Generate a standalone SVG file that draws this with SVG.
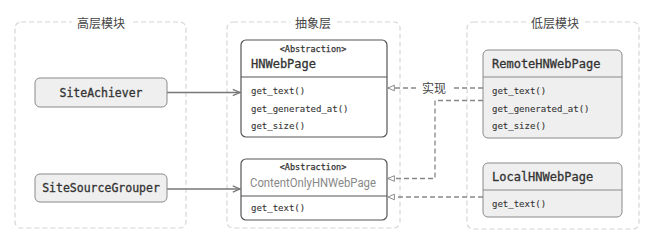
<svg xmlns="http://www.w3.org/2000/svg" width="660" height="238" viewBox="0 0 660 238">
<defs>
<style>
.grp{fill:none;stroke:#d6d6d6;stroke-width:1.2;stroke-dasharray:5 3}
.gt{font-family:"Noto Sans CJK SC","Noto Sans",sans-serif;font-size:12px;fill:#444;text-anchor:middle}
.lab{fill:#fff}
.n1{fill:#efefef;stroke:#8a8a8a;stroke-width:1}
.abs{fill:#fff;stroke:#555;stroke-width:1.2}
.imp{fill:#efefef;stroke:#8a8a8a;stroke-width:1}
.div1{stroke:#555;stroke-width:1.2}
.div2{stroke:#8a8a8a;stroke-width:1.2}
.mono{font-family:"DejaVu Sans Mono","Liberation Mono",monospace;fill:#333}
.name{font-size:11.5px;stroke:#333;stroke-width:0.3}
.meth{font-size:9px;stroke:#333;stroke-width:0.1}
.st{font-size:8.5px;stroke:#333;stroke-width:0.25;text-anchor:middle}
.sans{font-family:Roboto,"Liberation Sans",sans-serif}
.solid{fill:none;stroke:#777;stroke-width:1.5}
.dash{fill:none;stroke:#888;stroke-width:1.3;stroke-dasharray:5 3}
</style>
<marker id="open" viewBox="0 0 10 10" refX="9" refY="5" markerWidth="9" markerHeight="9" markerUnits="userSpaceOnUse" orient="auto">
<path d="M1 1.5 L9 5 L1 8.5" fill="none" stroke="#777" stroke-width="1.3"/>
</marker>
<marker id="tri" viewBox="0 0 10 10" refX="9" refY="5" markerWidth="8" markerHeight="8" markerUnits="userSpaceOnUse" orient="auto">
<path d="M1 1.5 L9 5 L1 8.5 Z" fill="#fff" stroke="#888" stroke-width="1.2"/>
</marker>
</defs>
<rect width="660" height="238" fill="#fff"/>

<g id="group-high">
<rect class="grp" x="15" y="22" width="171" height="206" rx="6"/>
<rect class="lab" x="72" y="14" width="58" height="16"/>
<text class="gt" x="101" y="28">高层模块</text>
</g>
<g id="group-abstract">
<rect class="grp" x="227" y="22" width="173" height="206" rx="6"/>
<rect class="lab" x="290" y="14" width="46" height="16"/>
<text class="gt" x="313" y="28">抽象层</text>
</g>
<g id="group-low">
<rect class="grp" x="467" y="22" width="172" height="207" rx="6"/>
<rect class="lab" x="526" y="14" width="58" height="16"/>
<text class="gt" x="555" y="28">低层模块</text>
</g>

<g id="connectors">
<line class="solid" x1="167" y1="92.5" x2="240" y2="92.5" marker-end="url(#open)"/>
<line class="solid" x1="167" y1="189" x2="240" y2="189" marker-end="url(#open)"/>
<path class="dash" d="M483 88 H453 M416 88 H388" marker-end="url(#tri)"/>
<path class="dash" d="M483 100.5 H435 V178.5 H388" marker-end="url(#tri)"/>
<line class="dash" x1="483" y1="197" x2="388" y2="197" marker-end="url(#tri)"/>
<text class="gt" x="434" y="92.5">实现</text>
</g>

<g id="SiteAchiever">
<rect class="n1" x="35" y="78" width="132" height="29" rx="5"/>
<text class="mono name" x="101" y="96.5" text-anchor="middle">SiteAchiever</text>
</g>
<g id="SiteSourceGrouper">
<rect class="n1" x="35" y="174" width="132" height="28" rx="5"/>
<text class="mono name" x="101" y="192" text-anchor="middle">SiteSourceGrouper</text>
</g>

<g id="HNWebPage">
<rect class="abs" x="241" y="40" width="146" height="97" rx="5"/>
<line class="div1" x1="241" y1="77" x2="387" y2="77"/>
<text class="mono st" x="313" y="51.5">&lt;Abstraction&gt;</text>
<text class="mono name" x="251" y="68" style="font-size:12px">HNWebPage</text>
<text class="mono meth" x="251" y="94">get_text()</text>
<text class="mono meth" x="251" y="111.5">get_generated_at()</text>
<text class="mono meth" x="251" y="129">get_size()</text>
</g>
<g id="ContentOnlyHNWebPage">
<rect class="abs" x="241" y="159" width="146" height="61" rx="5"/>
<line class="div1" x1="241" y1="196" x2="387" y2="196"/>
<text class="mono st" x="313" y="169.5">&lt;Abstraction&gt;</text>
<text class="sans" x="250" y="187" font-size="12" fill="#888" textLength="126" lengthAdjust="spacingAndGlyphs">ContentOnlyHNWebPage</text>
<text class="mono meth" x="251" y="211">get_text()</text>
</g>

<g id="RemoteHNWebPage">
<rect class="imp" x="483" y="50" width="139" height="88" rx="5"/>
<line class="div2" x1="483" y1="77" x2="622" y2="77"/>
<text class="mono name" x="492" y="68" style="font-size:12px">RemoteHNWebPage</text>
<text class="mono meth" x="492" y="94">get_text()</text>
<text class="mono meth" x="492" y="111.5">get_generated_at()</text>
<text class="mono meth" x="492" y="129">get_size()</text>
</g>
<g id="LocalHNWebPage">
<rect class="imp" x="483" y="163" width="139" height="54" rx="5"/>
<line class="div2" x1="483" y1="190" x2="622" y2="190"/>
<text class="mono name" x="492" y="181" style="font-size:12px">LocalHNWebPage</text>
<text class="mono meth" x="492" y="207">get_text()</text>
</g>
</svg>
